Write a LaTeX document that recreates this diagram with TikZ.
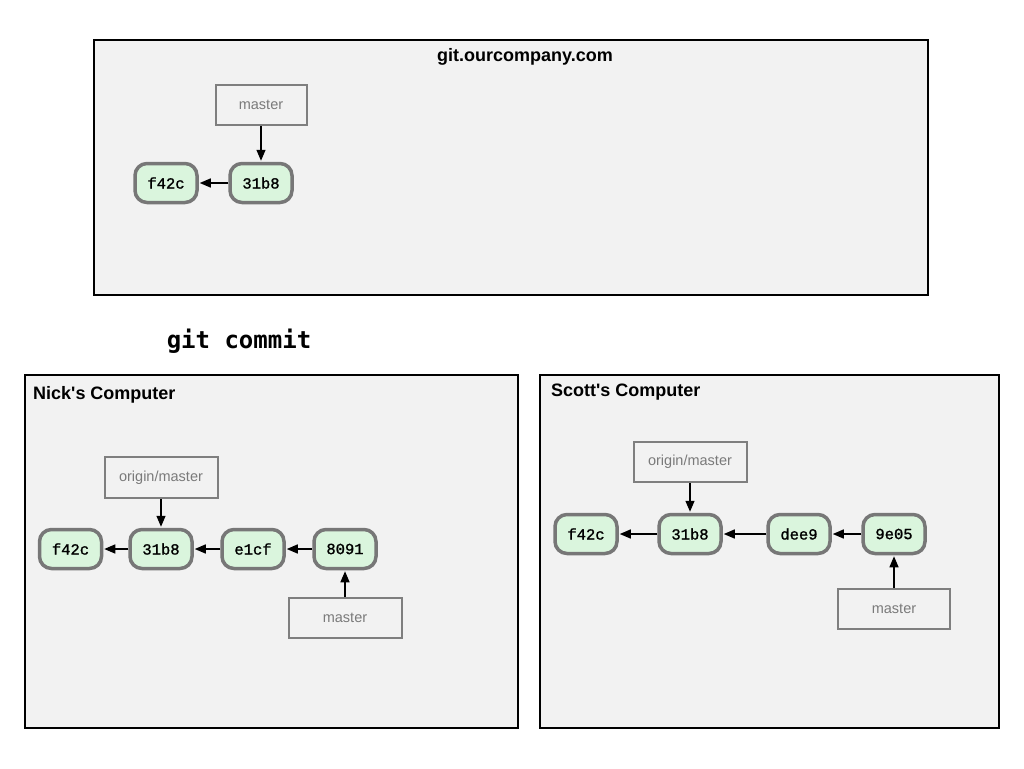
\documentclass[tikz,border=0pt]{standalone}
\usepackage{fontspec}
\setmainfont{Liberation Sans}[Ligatures=ResetAll]
\newfontfamily\commitfont[FakeBold=1.2]{Liberation Mono}
\newfontfamily\cmdfont{DejaVu Sans Mono}
\usetikzlibrary{arrows.meta}
\definecolor{panelbg}{HTML}{F2F2F2}
\definecolor{commitfill}{HTML}{DAF5DD}
\definecolor{commitline}{HTML}{777777}
\definecolor{refline}{HTML}{7F7F7F}
\definecolor{reftext}{HTML}{7A7A7A}
% straight typewriter apostrophe, set as a glyph so no mapping curls it
\newcommand{\straightapos}{\XeTeXglyph\numexpr\XeTeXcharglyph"0027\relax}
\tikzset{
  panel/.style={draw=black, fill=panelbg, line width=1.6pt},
  paneltitle/.style={font=\fontsize{18}{21}\selectfont\bfseries, inner sep=0pt},
  commit/.style={draw=commitline, fill=commitfill, line width=3.5pt, rounded corners=12pt,
    minimum width=62pt, minimum height=39pt, inner sep=0pt,
    font=\commitfont\fontsize{15.5}{18}\selectfont},
  ref/.style={draw=refline, fill=panelbg, line width=2pt, inner sep=0pt,
    text=reftext, font=\fontsize{14.5}{17}\selectfont},
  ptr/.style={-{Triangle[length=11pt,width=9pt]}, line width=1.4pt, black, shorten >=1pt},
}
\begin{document}
\begin{tikzpicture}[x=1pt,y=-1pt]
\useasboundingbox (0,0) rectangle (1024,768);

% shared repository on the server
\node[panel, minimum width=834pt, minimum height=255pt, inner sep=0pt] (server) at (511,167.5) {};
\node[paneltitle] (servertitle) at (525,57) {git.ourcompany.com};
\node[ref, minimum width=91pt, minimum height=40pt] (smaster) at (261,105) {master};
\node[commit] (sf42c) at (166,183) {f42c};
\node[commit] (s31b8) at (261,183) {31b8};
\draw[ptr] (smaster) -- (s31b8);
\draw[ptr] (s31b8) -- (sf42c);

% command
\node[inner sep=0pt, font=\cmdfont\bfseries\fontsize{24}{28}\selectfont] (cmd) at (239,341) {git commit};

% Nick's machine
\node[panel, minimum width=493pt, minimum height=353pt, inner sep=0pt] (nick) at (271.5,551.5) {};
\node[paneltitle, anchor=west] (nicktitle) at (33,395) {Nick\straightapos s Computer};
\node[ref, minimum width=113pt, minimum height=41pt] (norigin) at (161,477.5) {origin/master};
\node[ref, minimum width=113pt, minimum height=40pt] (nmaster) at (345,618) {master};
\node[commit] (nf42c) at (70.5,549) {f42c};
\node[commit] (n31b8) at (161,549) {31b8};
\node[commit] (ne1cf) at (253,549) {e1cf};
\node[commit] (n8091) at (345,549) {8091};
\draw[ptr] (norigin) -- (n31b8);
\draw[ptr] (nmaster) -- (n8091);
\draw[ptr] (n31b8) -- (nf42c);
\draw[ptr] (ne1cf) -- (n31b8);
\draw[ptr] (n8091) -- (ne1cf);

% Scott's machine
\node[panel, minimum width=459pt, minimum height=353pt, inner sep=0pt] (scott) at (769.5,551.5) {};
\node[paneltitle, anchor=west] (scotttitle) at (551,392) {Scott\straightapos s Computer};
\node[ref, minimum width=113pt, minimum height=40pt] (sorigin) at (690,462) {origin/master};
\node[ref, minimum width=112pt, minimum height=40pt] (scmaster) at (894,609) {master};
\node[commit] (cf42c) at (586,534) {f42c};
\node[commit] (c31b8) at (690,534) {31b8};
\node[commit] (cdee9) at (799,534) {dee9};
\node[commit] (c9e05) at (894,534) {9e05};
\draw[ptr] (sorigin) -- (c31b8);
\draw[ptr] (scmaster) -- (c9e05);
\draw[ptr] (c31b8) -- (cf42c);
\draw[ptr] (cdee9) -- (c31b8);
\draw[ptr] (c9e05) -- (cdee9);
\end{tikzpicture}
\end{document}
